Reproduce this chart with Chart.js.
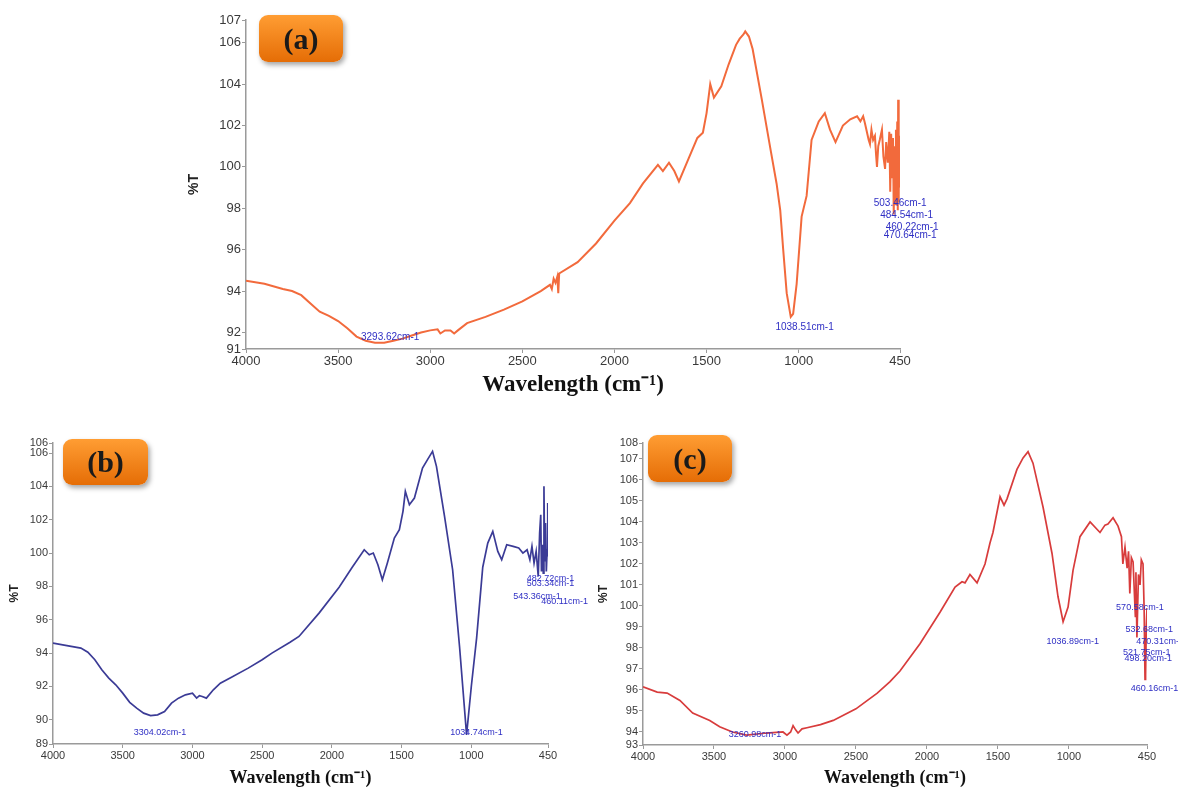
<!DOCTYPE html>
<html>
<head>
<meta charset="utf-8">
<script src="https://cdn.jsdelivr.net/npm/chart.js@4.4.1/dist/chart.umd.min.js"></script>
<style>
body { margin: 0; background: #fff; width: 1178px; height: 789px; position: relative; overflow: hidden; }
canvas { position: absolute; }
.tag {
    position: absolute; border-radius: 9px;
    background: linear-gradient(#ff9d33, #e56d06);
    box-shadow: 2px 3px 5px rgba(0, 0, 0, .35);
    font-family: "Liberation Serif", serif; font-weight: bold; font-size: 30px; color: #1a1a1a;
    display: flex; align-items: center; justify-content: center;
}
</style>
</head>
<body>
<canvas id="specA" width="790" height="400" style="left:170px;top:0px"></canvas>
<canvas id="specB" width="590" height="359" style="left:0px;top:430px"></canvas>
<canvas id="specC" width="588" height="359" style="left:590px;top:430px"></canvas>
<div class="tag" style="left:259px;top:15px;width:84px;height:47px">(a)</div>
<div class="tag" style="left:63px;top:439px;width:85px;height:46px">(b)</div>
<div class="tag" style="left:648px;top:435px;width:84px;height:47px">(c)</div>
<script>
// x axis ticks (wavenumber, cm-1), same for the three spectra
const waveTicks = [4000, 3500, 3000, 2500, 2000, 1500, 1000, 450];

// spectrum (a)
const waveA = [4000, 3900, 3800, 3750, 3700, 3650, 3600, 3550, 3500, 3450, 3400, 3350, 3300, 3250, 3200, 3150, 3100, 3050, 3000, 2960,
    2945, 2920, 2890, 2870, 2850, 2800, 2700, 2600, 2500, 2400, 2350, 2340, 2330, 2320, 2310, 2305, 2300, 2200, 2100, 2000,
    1916, 1845, 1764, 1737, 1704, 1675, 1650, 1600, 1550, 1520, 1500, 1480, 1460, 1420, 1380, 1340, 1320, 1300, 1290, 1270,
    1250, 1200, 1150, 1120, 1100, 1084, 1065, 1043, 1030, 1011, 984, 957, 930, 891, 858, 830, 800, 760, 720, 683,
    665, 650, 640, 630, 620, 613, 605, 596, 586, 580, 575, 568, 560, 548, 540, 531, 525, 516, 508, 503,
    498, 493, 488, 484, 480, 476, 472, 468, 465, 462, 460, 457, 455, 452, 450];
const transA = [94.5, 94.35, 94.1, 94.0, 93.8, 93.4, 93.0, 92.8, 92.55, 92.2, 91.8, 91.6, 91.5, 91.5, 91.6, 91.7, 91.85, 92.0, 92.1, 92.15,
    91.95, 92.1, 92.1, 91.95, 92.1, 92.45, 92.75, 93.1, 93.5, 94.0, 94.3, 94.1, 94.6, 94.4, 94.7, 93.9, 94.85, 95.4, 96.3, 97.4,
    98.25, 99.2, 100.1, 99.8, 100.2, 99.8, 99.3, 100.35, 101.4, 101.65, 102.6, 104.0, 103.35, 103.9, 104.96, 105.9, 106.2, 106.4, 106.55, 106.3,
    105.7, 103.25, 100.7, 99.2, 97.9, 96.0, 93.9, 92.75, 92.9, 94.35, 97.6, 98.6, 101.3, 102.2, 102.6, 101.8, 101.2, 102.0, 102.3, 102.45,
    102.2, 102.45, 102.1, 101.7, 101.3, 101.1, 101.8, 101.3, 101.5, 100.6, 100.0, 101.0, 101.3, 101.8, 100.5, 99.9, 101.2, 100.2, 101.7, 98.8,
    101.6, 99.5, 101.4, 97.7, 101.0, 98.2, 101.8, 98.5, 102.2, 97.9, 103.25, 98.3, 101.5, 99.0, 100.5];
const yTicksA = [91.2, 92, 94, 96, 98, 100, 102, 104, 106, 107.1];
const yLabelsA = ["91", "92", "94", "96", "98", "100", "102", "104", "106", "107"];
const peakTextA = ["3293.62cm-1", "1038.51cm-1", "503.46cm-1", "484.54cm-1", "460.22cm-1", "470.64cm-1"];
const peakWaveA = [3293.62, 1038.51, 503.46, 484.54, 460.22, 470.64];
const peakTransA = [91.5, 92.75, 98, 98, 98, 98];

// spectrum (b)
const waveB = [4000, 3900, 3800, 3750, 3700, 3650, 3600, 3550, 3500, 3450, 3400, 3350, 3300, 3250, 3200, 3150, 3100, 3050, 3000, 2970,
    2950, 2930, 2900, 2850, 2800, 2720, 2600, 2500, 2430, 2300, 2236, 2092, 1948, 1854, 1768, 1732, 1703, 1670, 1638, 1602,
    1552, 1516, 1490, 1473, 1444, 1408, 1350, 1314, 1278, 1250, 1192, 1134, 1084, 1034, 1000, 962, 918, 882, 846, 810,
    782, 746, 700, 660, 630, 600, 580, 565, 550, 535, 520, 510, 502, 497, 490, 484, 479, 474, 468, 462,
    456, 452, 450];
const transB = [94.6, 94.45, 94.3, 94.05, 93.6, 93.0, 92.5, 92.1, 91.6, 91.05, 90.7, 90.4, 90.25, 90.3, 90.5, 91.0, 91.3, 91.5, 91.6, 91.3,
    91.45, 91.4, 91.3, 91.8, 92.2, 92.55, 93.1, 93.6, 94.0, 94.65, 95.0, 96.4, 97.95, 99.15, 100.2, 99.9, 100.0, 99.3, 98.4, 99.4,
    100.9, 101.4, 102.5, 103.7, 102.9, 103.3, 105.1, 105.6, 106.1, 105.2, 102.2, 99.0, 94.35, 89.1, 92.0, 94.9, 99.15, 100.6, 101.3, 100.1,
    99.6, 100.5, 100.4, 100.3, 100.0, 100.2, 99.6, 100.4, 99.4, 100.1, 98.6, 101.2, 102.3, 98.9, 100.5, 98.8, 104.0, 99.5, 101.8, 98.9,
    100.2, 103.0, 99.8];
const yTicksB = [88.55, 90, 92, 94, 96, 98, 100, 102, 104, 106, 106.6];
const yLabelsB = ["89", "90", "92", "94", "96", "98", "100", "102", "104", "106", "106"];
const peakTextB = ["3304.02cm-1", "1034.74cm-1", "482.72cm-1", "503.34cm-1", "543.36cm-1", "460.11cm-1"];
const peakWaveB = [3304.02, 1034.74, 482.72, 503.34, 543.36, 460.11];
const peakTransB = [90.25, 89.1, 98.8, 98.8, 98.8, 98.8];

// spectrum (c)
const waveC = [4000, 3900, 3830, 3740, 3650, 3530, 3460, 3370, 3270, 3130, 3014, 2986, 2960, 2943, 2925, 2908, 2880, 2845, 2750, 2660,
    2500, 2350, 2260, 2190, 2049, 1908, 1802, 1753, 1732, 1697, 1647, 1591, 1556, 1535, 1485, 1457, 1436, 1366, 1323, 1288,
    1253, 1182, 1119, 1077, 1041, 1006, 971, 922, 851, 781, 746, 725, 689, 654, 630, 620, 605, 590, 580, 571,
    560, 548, 532, 528, 521, 510, 499, 490, 478, 470, 464, 460, 455, 450];
const transC = [96.15, 95.9, 95.85, 95.5, 94.9, 94.55, 94.25, 94.0, 93.85, 93.95, 94.0, 93.85, 94.0, 94.3, 94.1, 93.95, 94.15, 94.2, 94.35, 94.55,
    95.1, 95.85, 96.4, 96.9, 98.2, 99.7, 100.9, 101.15, 101.1, 101.5, 101.1, 102.0, 103.0, 103.5, 105.2, 104.8, 105.1, 106.5, 107.05, 107.35,
    106.8, 104.7, 102.5, 100.45, 99.25, 99.95, 101.7, 103.3, 104.0, 103.5, 103.85, 103.9, 104.2, 103.8, 103.3, 102.0, 102.8, 101.8, 102.6, 100.6,
    102.3, 102.1, 99.5, 101.6, 98.5, 101.5, 101.0, 102.2, 102.0, 99.8, 96.5, 96.7, 99.0, 99.9];
const yTicksC = [93.38, 94, 95, 96, 97, 98, 99, 100, 101, 102, 103, 104, 105, 106, 107, 107.76];
const yLabelsC = ["93", "94", "95", "96", "97", "98", "99", "100", "101", "102", "103", "104", "105", "106", "107", "108"];
const peakTextC = ["3260.98cm-1", "1036.89cm-1", "570.58cm-1", "532.68cm-1", "470.31cm-1", "521.75cm-1", "498.20cm-1", "460.16cm-1"];
const peakWaveC = [3260.98, 1036.89, 570.58, 532.68, 470.31, 521.75, 498.20, 460.16];
const peakTransC = [93.85, 99.25, 99, 99, 99, 99, 99, 99];

// pixel nudges of the peak labels from their peak point
let peakSets = {
    specA: { text: peakTextA, waves: peakWaveA, trans: peakTransA, font: "10px 'Liberation Sans'",
        nudge: [[14, -6], [13, 10], [10, -5], [13, 7], [14, 19], [14, 27]] },
    specB: { text: peakTextB, waves: peakWaveB, trans: peakTransB, font: "9px 'Liberation Sans'",
        nudge: [[10, 17], [10, -2], [7, 5], [10, 10], [2, 23], [18, 28]] },
    specC: { text: peakTextC, waves: peakWaveC, trans: peakTransC, font: "9px 'Liberation Sans'",
        nudge: [[7, -1], [9, 20], [10, -19], [14, 3], [16, 15], [10, 26], [8, 32], [9, 62]] }
};

const peakLabels = {
    id: "peakLabels",
    afterDatasetsDraw(chart) {
        let set = peakSets[chart.canvas.id];
        if (!set) return;
        let ctx = chart.ctx;
        let xs = chart.scales.x, ys = chart.scales.y;
        ctx.save();
        ctx.font = set.font;
        ctx.fillStyle = "#2f2fc4";
        ctx.textAlign = "center";
        ctx.textBaseline = "middle";
        set.text.forEach((t, i) => {
            let px = xs.getPixelForValue(set.waves[i]);
            let py = ys.getPixelForValue(set.trans[i]);
            ctx.fillText(t, px + set.nudge[i][0], py + set.nudge[i][1]);
        });
        ctx.restore();
    }
};

function buildSpectrum(id, waves, trans, color, yTicks, yLabels, geo) {
    let ctx = document.getElementById(id).getContext("2d");
    let points = waves.map((w, i) => ({ x: w, y: trans[i] }));
    return new Chart(ctx, {
        type: "line",
        data: {
            datasets: [{
                data: points,
                borderColor: color,
                borderWidth: geo.lineWidth,
                pointRadius: 0,
                tension: 0
            }]
        },
        options: {
            responsive: false,
            animation: false,
            devicePixelRatio: 1,
            layout: { padding: geo.pad },
            plugins: { legend: { display: false }, tooltip: { enabled: false } },
            scales: {
                x: {
                    type: "linear",
                    reverse: true,
                    min: 450,
                    max: 4000,
                    afterBuildTicks: (s) => { s.ticks = waveTicks.map(v => ({ value: v })); },
                    afterFit: (s) => { s.height = geo.xHeight; },
                    grid: { drawOnChartArea: false, tickLength: 4, color: "#9a9a9a" },
                    border: { color: "#9a9a9a", width: 1.5 },
                    ticks: {
                        autoSkip: false, maxRotation: 0, padding: 1,
                        color: "#3a3a3a", font: { family: "Liberation Sans", size: geo.tickSize },
                        callback: (v) => String(v)
                    },
                    title: {
                        display: true,
                        text: "Wavelength (cm\u207B\u00B9)",
                        color: "#111",
                        font: { family: "Liberation Serif", weight: "bold", size: geo.titleSize },
                        padding: { top: 0, bottom: geo.titlePad }
                    }
                },
                y: {
                    type: "linear",
                    min: yTicks[0],
                    max: yTicks[yTicks.length - 1],
                    afterBuildTicks: (s) => { s.ticks = yTicks.map(v => ({ value: v })); },
                    afterFit: (s) => { s.width = geo.yWidth; },
                    grid: { drawOnChartArea: false, tickLength: 4, color: "#9a9a9a" },
                    border: { color: "#9a9a9a", width: 1.5 },
                    ticks: {
                        autoSkip: false, padding: 1,
                        color: "#3a3a3a", font: { family: "Liberation Sans", size: geo.tickSize },
                        callback: (v, i) => yLabels[i]
                    },
                    title: {
                        display: true,
                        text: "%T",
                        color: "#222",
                        font: { family: "Liberation Sans", weight: "bold", size: geo.yTitleSize },
                        padding: { top: geo.yTitlePad, bottom: 0 }
                    }
                }
            }
        },
        plugins: [peakLabels]
    });
}

buildSpectrum("specA", waveA, transA, "#f26a3c", yTicksA, yLabelsA, {
    pad: { left: 0, right: 60, top: 20, bottom: 0 }, yWidth: 76, xHeight: 51,
    tickSize: 13, titleSize: 23, titlePad: 1, yTitleSize: 14, yTitlePad: 16, lineWidth: 2
});
buildSpectrum("specB", waveB, transB, "#3b3b96", yTicksB, yLabelsB, {
    pad: { left: 0, right: 42, top: 13, bottom: 0 }, yWidth: 53, xHeight: 45,
    tickSize: 11, titleSize: 18, titlePad: 0, yTitleSize: 12, yTitlePad: 7, lineWidth: 1.7
});
buildSpectrum("specC", waveC, transC, "#d83c3c", yTicksC, yLabelsC, {
    pad: { left: 0, right: 31, top: 13, bottom: 0 }, yWidth: 53, xHeight: 44,
    tickSize: 11, titleSize: 18, titlePad: 0, yTitleSize: 12, yTitlePad: 6, lineWidth: 1.7
});
</script>
</body>
</html>
